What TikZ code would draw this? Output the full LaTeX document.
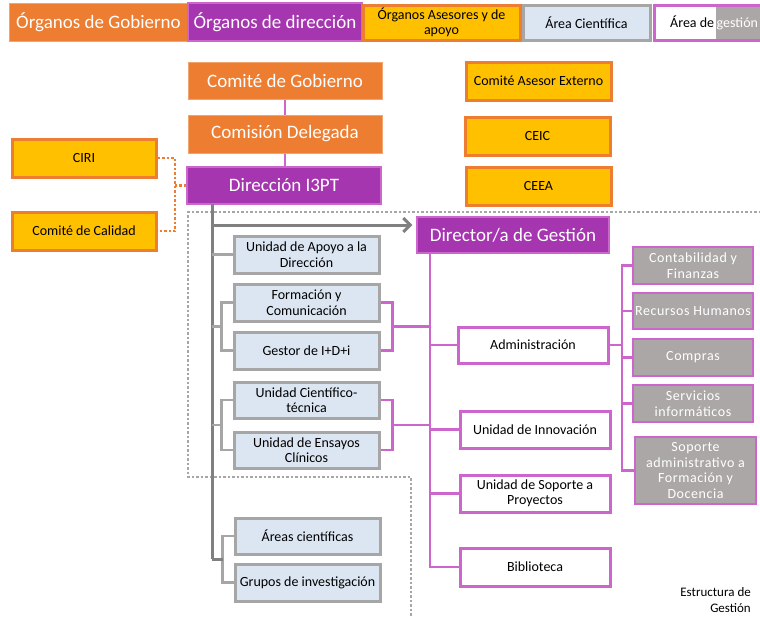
\documentclass[tikz,border=0pt]{standalone}
\usepackage{fontspec}
\setmainfont{Carlito}
\newfontfamily\spacedfont[LetterSpace=4]{Carlito}
\usetikzlibrary{arrows.meta,calc}
\definecolor{orgc}{HTML}{ED7D31}
\definecolor{purc}{HTML}{A636B0}
\definecolor{pinkc}{HTML}{CC66CC}
\definecolor{yelc}{HTML}{FFC000}
\definecolor{bluc}{HTML}{DCE6F2}
\definecolor{grayb}{HTML}{A6A6A6}
\definecolor{grayf}{HTML}{ABA7A7}
\definecolor{grayd}{HTML}{808080}
\tikzset{
 bx/.style={inner sep=1pt, align=center, font=\fontsize{14}{15.5}\selectfont},
 gob/.style={bx, fill=orgc, draw=orgc!70!white, line width=1pt, text=white, font=\fontsize{19}{21}\selectfont},
 dirb/.style={bx, fill=purc, draw=pinkc, line width=1.2pt, text=white, font=\fontsize{19}{21}\selectfont},
 ase/.style={bx, fill=yelc, draw=orgc, line width=3pt},
 sci/.style={bx, fill=bluc, draw=grayb, line width=3pt},
 ges/.style={bx, fill=white, draw=pinkc, line width=3pt},
 gsub/.style={bx, fill=grayf, draw=pinkc, line width=2pt, text=white, font=\spacedfont\fontsize{14}{15.5}\selectfont},
 pline/.style={draw=pinkc, line width=2.5pt},
 gline/.style={draw=grayb, line width=2.5pt},
 trunk/.style={draw=grayd, line width=3pt},
 odot/.style={draw=orgc, line width=2.5pt, dash pattern=on 2.5pt off 2pt},
 gdot/.style={draw=grayb, line width=2.5pt, dash pattern=on 2.5pt off 2pt},
 lbl/.style={inner sep=0pt, font=\fontsize{14}{15.5}\selectfont},
}
\newcommand\mkbox[7]{\node[#2, minimum width={(#5-#3)*1pt}, minimum height={(#6-#4)*1pt}] (#1) at ({(#3+#5)/2},{(#4+#6)/2}) {#7};}
\begin{document}
\begin{tikzpicture}[x=1pt,y=-1pt]
\useasboundingbox (0,0) rectangle (760,616);
\clip (0,0) rectangle (760,616);
\fill[white] (0,0) rectangle (760,616);
% legend
\mkbox{lg1}{gob}{9}{3}{188}{41}{Órganos de Gobierno}
\mkbox{lg2}{dirb}{188}{3}{362}{41}{Órganos de dirección}
\mkbox{lg3}{ase}{363}{5}{520}{40}{Órganos Asesores y de\\apoyo}
\mkbox{lg4}{sci}{523}{5}{650}{40}{Área Científica}
\mkbox{lg5}{ges}{654}{5}{775}{40}{}
\fill[grayf] (716,6.5) rectangle (775,38.5);
\node[lbl, anchor=base west] (lg5a) at (670,27) {Área de};
\node[lbl, anchor=base west, text=white] (lg5b) at (716.5,27) {gestión};
% dotted frame
\draw[gdot] (770,212) -- (188,212) -- (188,477) -- (411,477) -- (411,620);
% governing
\mkbox{cg}{gob}{188}{62}{382}{99}{Comité de Gobierno}
\mkbox{cd}{gob}{188}{115}{382}{153}{Comisión Delegada}
\mkbox{d3}{dirb}{187}{167}{381}{204}{Dirección I3PT}
\mkbox{ciri}{ase}{12}{139}{156}{177}{CIRI}
\mkbox{cc}{ase}{12}{212}{156}{250}{Comité de Calidad}
\mkbox{cae}{ase}{466}{62}{611}{100}{Comité Asesor Externo}
\mkbox{ceic}{ase}{465}{117}{610}{155}{CEIC}
\mkbox{ceea}{ase}{466}{167}{611}{205}{CEEA}
\mkbox{dg}{dirb}{417}{217}{609}{253}{Director/a de Gestión}
% science boxes
\mkbox{uad}{sci}{234}{236}{379}{273}{Unidad de Apoyo a la\\Dirección}
\mkbox{fc}{sci}{234}{284}{379}{321}{Formación y\\Comunicación}
\mkbox{gi}{sci}{234}{332}{379}{369}{Gestor de I+D+i}
\mkbox{uc}{sci}{234}{382}{379}{418}{Unidad Científico-\\técnica}
\mkbox{ue}{sci}{234}{432}{379}{468}{Unidad de Ensayos\\Clínicos}
\mkbox{ac}{sci}{235}{518}{380}{554}{Áreas científicas}
\mkbox{gr}{sci}{235}{564}{380}{601}{Grupos de investigación}
% management boxes
\mkbox{adm}{ges}{458}{327}{608}{363}{Administración}
\mkbox{ui}{ges}{460}{411}{610}{448}{Unidad de Innovación}
\mkbox{usp}{ges}{460}{475}{610}{512}{Unidad de Soporte a\\Proyectos}
\mkbox{bib}{ges}{460}{548}{610}{586}{Biblioteca}
\mkbox{cf}{gsub}{633}{247}{753}{284}{Contabilidad y\\Finanzas}
\mkbox{rh}{gsub}{633}{293}{753}{329}{Recursos Humanos}
\mkbox{co}{gsub}{633}{339}{753}{376}{Compras}
\mkbox{si}{gsub}{633}{385}{753}{422}{Servicios\\informáticos}
\mkbox{sa}{gsub}{635}{437}{756}{504}{Soporte\\administrativo a\\Formación y\\Docencia}
\node[lbl, anchor=base east, font=\fontsize{13}{15}\selectfont] (est1) at (751,596) {Estructura de};
\node[lbl, anchor=base east, font=\fontsize{13}{15}\selectfont] (est2) at (751,612) {Gestión};
% top connectors
\draw[pline] (cg.south) -- (cd.north);
\draw[pline] (cd.south) -- (cd.south |- d3.north);
\coordinate (ob) at (175,0);
\draw[odot] (ciri.east) -| (ob |- cc.east) -- (cc.east);
\draw[odot] (d3.west) -- (ob |- d3.west);
% gray trunk
\coordinate (t0) at (212,204);
\coordinate (ta) at (212,225);
\coordinate (m1) at ($(fc.west)!.5!(gi.west)$);
\coordinate (m2) at ($(uc.west)!.5!(ue.west)$);
\coordinate (m3) at ($(ac.west)!.5!(gr.west)$);
\draw[trunk] (t0) -- (t0 |- m3);
\draw[trunk, -{Straight Barb[length=7pt,width=14pt]}, shorten >=4pt] (ta) -- (dg.west |- ta);
\draw[gline] (t0 |- uad.west) -- (uad.west);
\draw[gline] (fc.west) -- ++(-11,0) |- (gi.west);
\draw[gline] (t0 |- m1) -- ($(m1)+(-11,0)$);
\draw[gline] (uc.west) -- ++(-11,0) |- (ue.west);
\draw[gline] (t0 |- m2) -- ($(m2)+(-11,0)$);
\draw[gline] (ac.west) -- ++(-11,0) |- (gr.west);
\draw[trunk] (t0 |- m3) -- ($(m3)+(-11,0)$);
% purple trunk
\coordinate (p0) at (430,253);
\draw[pline] (p0) |- (bib.west);
\draw[pline] (p0 |- adm.west) -- (adm.west);
\draw[pline] (p0 |- ui.west) -- (ui.west);
\draw[pline] (p0 |- usp.west) -- (usp.west);
\coordinate (n1) at ($(fc.east)!.5!(gi.east)$);
\coordinate (n2) at ($(uc.east)!.5!(ue.east)$);
\draw[pline] (fc.east) -- ++(12,0) |- (gi.east);
\draw[pline] ($(n1)+(12,0)$) -- (p0 |- n1);
\draw[pline] (uc.east) -- ++(12,0) |- (ue.east);
\draw[pline] ($(n2)+(12,0)$) -- (p0 |- n2);
% administration branches
\coordinate (q) at (622,0);
\draw[pline] (adm.east) -- (q |- adm.east);
\draw[pline] (cf.west) -| (q |- sa.west) -- (sa.west);
\draw[pline] (q |- rh.west) -- (rh.west);
\draw[pline] (q |- co.west) -- (co.west);
\draw[pline] (q |- si.west) -- (si.west);
\end{tikzpicture}
\end{document}
